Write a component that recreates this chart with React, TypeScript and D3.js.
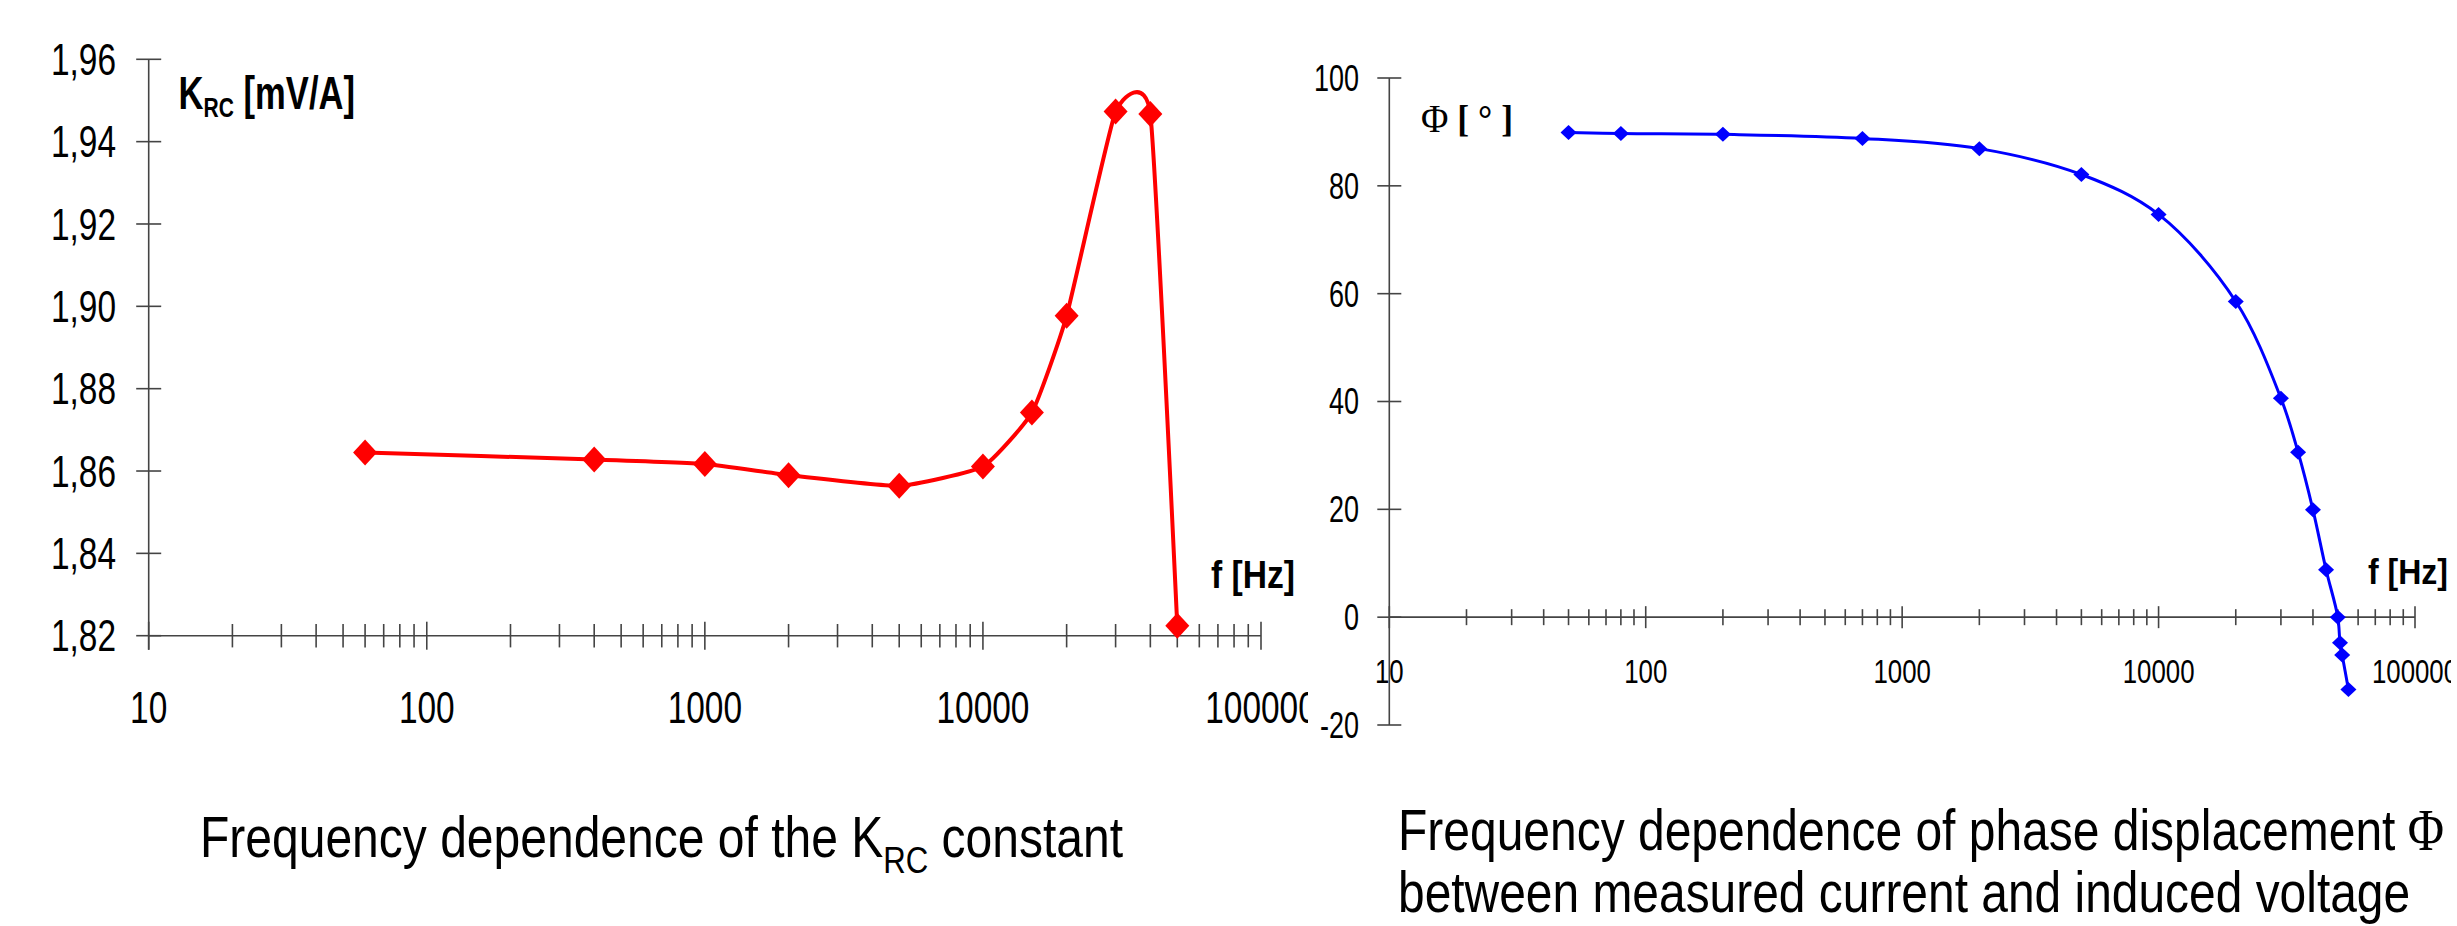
import React, { useLayoutEffect, useRef, useState } from "react";
import * as d3 from "d3";

// ---- Data ----
const kFreq = [60, 400, 1000, 2000, 5000, 10000, 15000, 20000, 30000, 40000, 50000];
const kValues = [1.8645, 1.8628, 1.8617, 1.859, 1.8564, 1.8611, 1.8742, 1.8977, 1.9473, 1.9467, 1.8224];

const phiFreq = [50, 80, 200, 700, 2000, 5000, 10000, 20000, 30000, 35000, 40000, 45000, 50000, 51000, 52000, 55000];
const phiValues = [89.9, 89.7, 89.55, 88.8, 86.9, 82.1, 74.7, 58.55, 40.6, 30.6, 19.9, 8.8, 0, -4.75, -7, -13.4];

const kTicks = [1.82, 1.84, 1.86, 1.88, 1.9, 1.92, 1.94, 1.96];
const kTickLabels = ["1,82", "1,84", "1,86", "1,88", "1,90", "1,92", "1,94", "1,96"];
const phiTicks = [-20, 0, 20, 40, 60, 80, 100];
const freqMajor = [10, 100, 1000, 10000, 100000];
const freqLabels = ["10", "100", "1000", "10000", "100000"];

const SANS = "'Liberation Sans', Arial, sans-serif";
const SERIF = "'Liberation Serif', 'Times New Roman', serif";
const AXIS = "#444";

function minorTicks(): number[] {
  const out: number[] = [];
  for (let d = 10; d < 100000; d *= 10) for (let k = 2; k <= 9; k++) out.push(d * k);
  return out;
}

// Text squeezed horizontally so that its advance equals `width`
function FitText(props: {
  x: number;
  y: number;
  width: number;
  guess: number;
  fontFamily: string;
  fontSize: number;
  fontWeight?: string;
  children: React.ReactNode;
}) {
  const ref = useRef<SVGTextElement>(null);
  const [s, setS] = useState(props.guess);
  useLayoutEffect(() => {
    if (ref.current) {
      const w = ref.current.getComputedTextLength();
      if (w > 0) setS(props.width / w);
    }
  }, [props.width]);
  return (
    <g transform={`translate(${props.x},${props.y}) scale(${s},1)`}>
      <text
        ref={ref}
        x={0}
        y={0}
        fontFamily={props.fontFamily}
        fontSize={props.fontSize}
        fontWeight={props.fontWeight || "normal"}
        fill="#000"
      >
        {props.children}
      </text>
    </g>
  );
}

export default function App() {
  // left chart scales
  const xL = d3.scaleLog().domain([10, 100000]).range([148.7, 1261]);
  const yL = d3.scaleLinear().domain([1.82, 1.96]).range([635.7, 59.3]);
  // right chart scales
  const xR = d3.scaleLog().domain([10, 100000]).range([1389.3, 2415]);
  const yR = d3.scaleLinear().domain([-20, 100]).range([725, 78]);

  const kData = kFreq.map((f, i) => ({ f, v: kValues[i] }));
  const pData = phiFreq.map((f, i) => ({ f, v: phiValues[i] }));

  const lineL = d3
    .line<{ f: number; v: number }>()
    .x((d) => xL(d.f))
    .y((d) => yL(d.v))
    .curve(d3.curveCardinal.tension(0.55));
  const lineR = d3
    .line<{ f: number; v: number }>()
    .x((d) => xR(d.f))
    .y((d) => yR(d.v))
    .curve(d3.curveCatmullRom.alpha(0.5));

  const minors = minorTicks();
  const y0L = yL(1.82);
  const y0R = yR(0);

  return (
    <svg
      width={2457}
      height={926}
      viewBox="0 0 2457 926"
      style={{ position: "absolute", left: 0, top: 0, background: "#fff" }}
    >
      <defs>
        <clipPath id="clipL">
          <rect x={0} y={0} width={1308} height={926} />
        </clipPath>
        <clipPath id="clipR">
          <rect x={1320} y={0} width={1131} height={926} />
        </clipPath>
      </defs>
      <rect x={0} y={0} width={2457} height={926} fill="#fff" />

      {/* ================= LEFT CHART ================= */}
      <g>
        {/* y axis */}
        <line x1={xL(10)} x2={xL(10)} y1={yL(1.96)} y2={y0L + 14} stroke={AXIS} strokeWidth={1.6} />
        {kTicks.map((t, i) => (
          <g key={"kt" + i}>
            <line x1={xL(10) - 12.5} x2={xL(10) + 12.5} y1={yL(t)} y2={yL(t)} stroke={AXIS} strokeWidth={1.6} />
            <g transform={`translate(116,${yL(t)}) scale(0.76,1)`}>
              <text textAnchor="end" dy="0.358em" fontFamily={SANS} fontSize={44} fill="#000">
                {kTickLabels[i]}
              </text>
            </g>
          </g>
        ))}
        {/* x axis */}
        <line x1={xL(10)} x2={xL(100000)} y1={y0L} y2={y0L} stroke={AXIS} strokeWidth={1.6} />
        {minors.map((m) => (
          <line key={"lm" + m} x1={xL(m)} x2={xL(m)} y1={y0L - 11.7} y2={y0L + 11.7} stroke={AXIS} strokeWidth={1.6} />
        ))}
        {freqMajor.map((m) => (
          <line key={"lM" + m} x1={xL(m)} x2={xL(m)} y1={y0L - 14} y2={y0L + 14} stroke={AXIS} strokeWidth={1.6} />
        ))}
        <g clipPath="url(#clipL)">
          {freqMajor.map((m, i) => (
            <g key={"lxl" + m} transform={`translate(${xL(m)},722.7) scale(0.76,1)`}>
              <text textAnchor="middle" fontFamily={SANS} fontSize={44} fill="#000">
                {freqLabels[i]}
              </text>
            </g>
          ))}
        </g>

        {/* axis titles */}
        <FitText x={178.6} y={109.3} width={176.4} guess={0.75} fontFamily={SANS} fontWeight="bold" fontSize={46}>
          K<tspan dy={7.4} fontSize={28}>RC</tspan>
          <tspan dy={-7.4}> [mV/A]</tspan>
        </FitText>
        <FitText x={1211} y={588} width={84} guess={0.88} fontFamily={SANS} fontWeight="bold" fontSize={38}>
          f [Hz]
        </FitText>

        {/* series */}
        <path d={lineL(kData) || ""} fill="none" stroke="#ff0000" strokeWidth={4} strokeLinejoin="round" />
        {kData.map((d, i) => (
          <path
            key={"kd" + i}
            transform={`translate(${xL(d.f)},${yL(d.v)})`}
            d="M0,-13L12,0L0,13L-12,0Z"
            fill="#ff0000"
          />
        ))}

        {/* caption */}
        <FitText x={200} y={857} width={923} guess={0.83} fontFamily={SANS} fontSize={57}>
          Frequency dependence of the K<tspan dy={16} fontSize={37}>RC</tspan>
          <tspan dy={-16}> constant</tspan>
        </FitText>
      </g>

      {/* ================= RIGHT CHART ================= */}
      <g>
        <line x1={xR(10)} x2={xR(10)} y1={yR(100)} y2={yR(-20)} stroke={AXIS} strokeWidth={1.6} />
        {phiTicks.map((t) => (
          <g key={"pt" + t}>
            <line x1={xR(10) - 12} x2={xR(10) + 12} y1={yR(t)} y2={yR(t)} stroke={AXIS} strokeWidth={1.6} />
            <g transform={`translate(1359,${yR(t)}) scale(0.75,1)`}>
              <text textAnchor="end" dy="0.358em" fontFamily={SANS} fontSize={36} fill="#000">
                {String(t)}
              </text>
            </g>
          </g>
        ))}
        <line x1={xR(10)} x2={xR(100000)} y1={y0R} y2={y0R} stroke={AXIS} strokeWidth={1.6} />
        {minors.map((m) => (
          <line key={"rm" + m} x1={xR(m)} x2={xR(m)} y1={y0R - 8} y2={y0R + 8} stroke={AXIS} strokeWidth={1.6} />
        ))}
        {freqMajor.map((m) => (
          <line key={"rM" + m} x1={xR(m)} x2={xR(m)} y1={y0R - 11} y2={y0R + 11} stroke={AXIS} strokeWidth={1.6} />
        ))}
        <g clipPath="url(#clipR)">
          {freqMajor.map((m, i) => (
            <g key={"rxl" + m} transform={`translate(${xR(m)},683) scale(0.76,1)`}>
              <text textAnchor="middle" fontFamily={SANS} fontSize={34} fill="#000">
                {freqLabels[i]}
              </text>
            </g>
          ))}
        </g>

        <FitText x={1421} y={132} width={92} guess={0.9} fontFamily={SERIF} fontSize={40}>
          Φ<tspan fontWeight="bold" fontSize={38}> [ ° ]</tspan>
        </FitText>
        <FitText x={2368} y={584} width={80} guess={0.88} fontFamily={SANS} fontWeight="bold" fontSize={36}>
          f [Hz]
        </FitText>

        <path d={lineR(pData) || ""} fill="none" stroke="#0000ff" strokeWidth={3} strokeLinejoin="round" />
        {pData.map((d, i) => (
          <path
            key={"pd" + i}
            transform={`translate(${xR(d.f)},${yR(d.v)})`}
            d="M0,-7.5L8,0L0,7.5L-8,0Z"
            fill="#0000ff"
          />
        ))}

        <FitText x={1398} y={850} width={1046} guess={0.825} fontFamily={SANS} fontSize={58}>
          Frequency dependence of phase displacement
          <tspan fontFamily={SERIF} fontSize={60}> Φ</tspan>
        </FitText>
        <FitText x={1398} y={912} width={1012} guess={0.82} fontFamily={SANS} fontSize={58}>
          between measured current and induced voltage
        </FitText>
      </g>
    </svg>
  );
}
